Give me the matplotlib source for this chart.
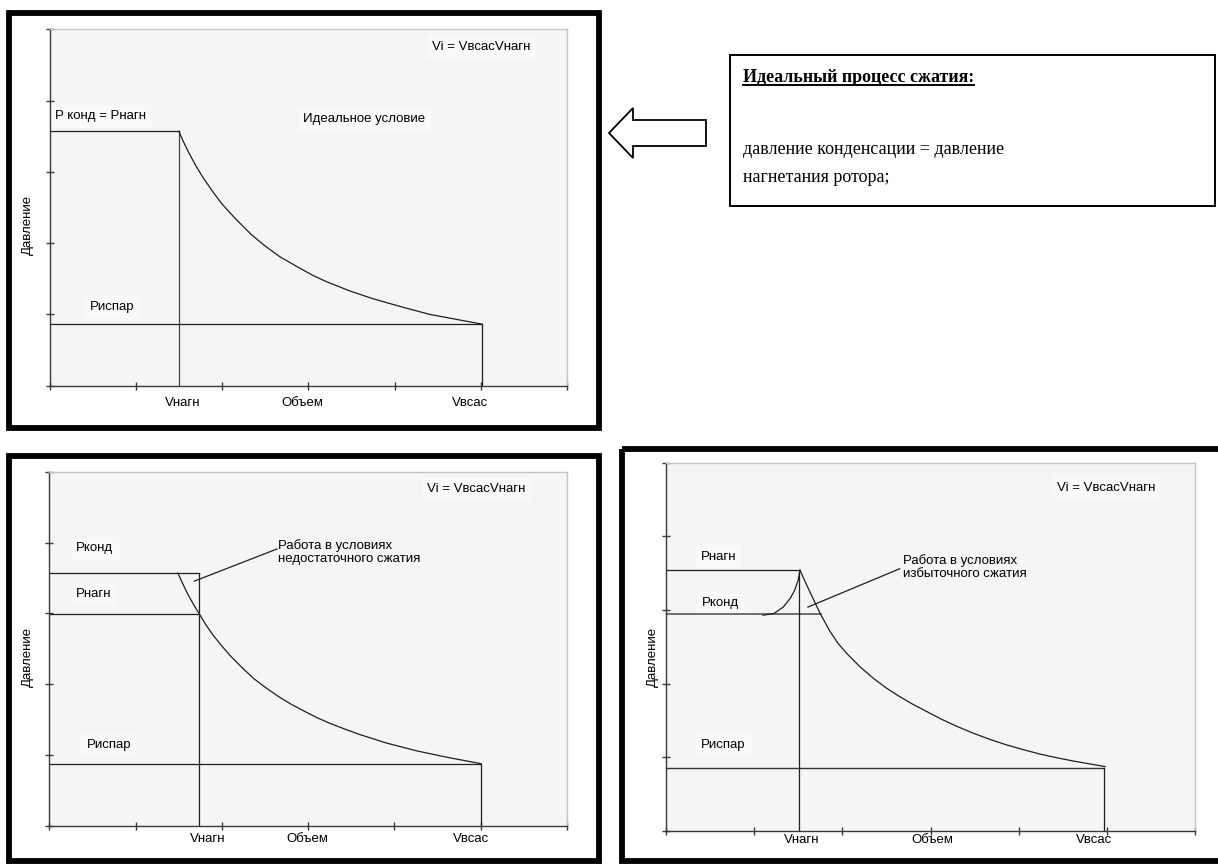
#!/usr/bin/env python3
# -*- coding: utf-8 -*-

# Import packages
import matplotlib
matplotlib.use("Agg")
import matplotlib.pyplot as plt
from matplotlib.patches import Rectangle, Polygon
from matplotlib.lines import Line2D
from matplotlib.transforms import Affine2D

# DATA (volume / pressure in axis units)
# Panel 1 - ideal compression
ideal_v_disch = 1.50
ideal_v_suct = 5.01
ideal_p_disch = 3.57
ideal_p_evap = 0.865
ideal_curve_v = [1.50, 1.55, 1.61, 1.69, 1.78, 1.90, 2.00, 2.15, 2.34, 2.50,
                 2.67, 2.87, 3.05, 3.21, 3.48, 3.75, 4.10, 4.41, 4.72, 5.01]
ideal_curve_p = [3.57, 3.43, 3.28, 3.10, 2.92, 2.71, 2.55, 2.35, 2.12, 1.96,
                 1.81, 1.67, 1.55, 1.46, 1.33, 1.22, 1.10, 1.00, 0.93, 0.865]

# Panel 2 - under-compression
under_v_disch = 1.74
under_v_suct = 5.00
under_p_cond = 3.57
under_p_disch = 2.99
under_p_evap = 0.88
under_curve_v = [1.49, 1.55, 1.61, 1.67, 1.74, 1.82, 1.90, 2.00, 2.10, 2.23,
                 2.37, 2.50, 2.64, 2.80, 2.94, 3.10, 3.25, 3.42, 3.60, 3.91,
                 4.26, 4.61, 5.00]
under_curve_p = [3.57, 3.41, 3.26, 3.13, 2.99, 2.83, 2.69, 2.54, 2.40, 2.24,
                 2.08, 1.96, 1.84, 1.72, 1.63, 1.53, 1.45, 1.37, 1.29, 1.17,
                 1.06, 0.97, 0.88]

# Panel 3 - over-compression
over_v_disch = 1.51
over_v_suct = 4.97
over_p_disch = 3.54
over_p_cond = 2.94
over_p_cond_end = 1.76
over_p_evap = 0.85
over_curve_v = [1.52, 1.58, 1.65, 1.75, 1.86, 1.95, 2.05, 2.20, 2.35, 2.50,
                2.65, 2.80, 2.96, 3.12, 3.30, 3.48, 3.67, 3.86, 4.05, 4.24,
                4.43, 4.62, 4.81, 4.98]
over_curve_p = [3.54, 3.38, 3.20, 2.95, 2.71, 2.55, 2.41, 2.23, 2.075, 1.94,
                1.825, 1.72, 1.62, 1.52, 1.42, 1.33, 1.245, 1.17, 1.105, 1.045,
                0.995, 0.95, 0.91, 0.875]
over_arc_v = [1.10, 1.22, 1.33, 1.41, 1.46, 1.50, 1.52]
over_arc_p = [2.93, 2.95, 3.04, 3.16, 3.27, 3.41, 3.54]

x_ticks = [0, 1, 2, 3, 4, 5, 6]
y_ticks = [0, 1, 2, 3, 4, 5]

W, H = 1218, 864
SANS = ["Liberation Sans", "DejaVu Sans"]
SERIF = ["Liberation Serif", "DejaVu Serif"]
LINE = "#1e1e1e"
LBL = 9.5


# FUNCTIONS
def px_axes(fig, x0, y0, x1, y1):
    """Add axes given its pixel box (y from the top)."""
    return fig.add_axes([x0 / W, 1 - y1 / H, (x1 - x0) / W, (y1 - y0) / H])


def style_axes(ax):
    ax.set_xlim(x_ticks[0], x_ticks[-1])
    ax.set_ylim(y_ticks[0], y_ticks[-1])
    ax.set_facecolor("#f5f5f5")
    ax.set_xticks(x_ticks)
    ax.set_yticks(y_ticks)
    ax.set_xticklabels([])
    ax.set_yticklabels([])
    ax.tick_params(direction="inout", length=6, width=1, color="#3a3a3a")
    for side in ("left", "bottom"):
        ax.spines[side].set_color("#3a3a3a")
        ax.spines[side].set_linewidth(1.0)
    for side in ("top", "right"):
        ax.spines[side].set_color("#c4c4c4")
        ax.spines[side].set_linewidth(1.0)


def label(ax, x, y, s):
    ax.text(x, y, s, ha="left", va="center", fontsize=LBL, family=SANS,
            zorder=1, bbox=dict(facecolor="#f9f9f9", edgecolor="none", pad=4))


def x_labels(ax, v_disch, v_mid, v_suct, offset):
    for xv, s in ((v_disch, "Vнагн"), (v_mid, "Объем"), (v_suct, "Vвсас")):
        ax.annotate(s, xy=(xv, 0), xycoords="data", xytext=(0, -offset),
                    textcoords="offset points", ha="center", va="center",
                    fontsize=LBL, family=SANS, annotation_clip=False)


def y_label(ax, fx, fy):
    ax.text(fx, fy, "Давление", transform=ax.transAxes, rotation=90,
            ha="center", va="center", fontsize=LBL, family=SANS)


fig = plt.figure(figsize=(W / 100, H / 100), dpi=100)
fig.patch.set_facecolor("white")
pix = Affine2D().scale(1 / W, -1 / H).translate(0, 1) + fig.transFigure

# Frames round the three panels
for x0, y0, x1, y1 in ((8.5, 12.5, 599, 428), (8.5, 455.5, 599, 860.5),
                       (622, 449, 1224, 860.5)):
    fig.add_artist(Rectangle((x0, y0), x1 - x0, y1 - y0, transform=pix,
                             fill=False, edgecolor="black", linewidth=4.2))

# Panel 1
ax1 = px_axes(fig, 49.5, 29.3, 567, 385.7)
style_axes(ax1)
ax1.plot([0, ideal_v_disch], [ideal_p_disch, ideal_p_disch], color=LINE, lw=0.9)
ax1.plot([ideal_v_disch, ideal_v_disch], [0, ideal_p_disch], color="#444", lw=0.9)
ax1.plot(ideal_curve_v, ideal_curve_p, color=LINE, lw=0.9)
ax1.plot([0, ideal_v_suct], [ideal_p_evap, ideal_p_evap], color=LINE, lw=0.9)
ax1.plot([ideal_v_suct, ideal_v_suct], [0, ideal_p_evap], color=LINE, lw=0.9)
label(ax1, 4.44, 4.75, "Vi = VвсасVнагн")
label(ax1, 0.06, 3.78, "P конд = Рнагн")
label(ax1, 2.94, 3.74, "Идеальное условие")
label(ax1, 0.47, 1.10, "Риспар")
x_labels(ax1, 1.54, 2.93, 4.88, 12.2)
y_label(ax1, -0.0415, 0.451)

# Panel 2
ax2 = px_axes(fig, 49.3, 471.7, 567, 826)
style_axes(ax2)
ax2.plot([0, under_v_disch], [under_p_cond, under_p_cond], color=LINE, lw=0.9)
ax2.plot([0, under_v_disch], [under_p_disch, under_p_disch], color=LINE, lw=0.9)
ax2.plot([under_v_disch, under_v_disch], [0, under_p_cond], color=LINE, lw=0.9)
ax2.plot(under_curve_v, under_curve_p, color=LINE, lw=0.9)
ax2.plot([0, under_v_suct], [under_p_evap, under_p_evap], color=LINE, lw=0.9)
ax2.plot([under_v_suct, under_v_suct], [0, under_p_evap], color=LINE, lw=0.9)
ax2.plot([1.68, 2.64], [3.455, 3.91], color=LINE, lw=0.9)
ax2.text(2.65, 3.87, "Работа в условиях\nнедостаточного сжатия", ha="left",
         va="center", fontsize=LBL, family=SANS, linespacing=1.1)
label(ax2, 4.38, 4.76, "Vi = VвсасVнагн")
label(ax2, 0.31, 3.92, "Рконд")
label(ax2, 0.31, 3.27, "Рнагн")
label(ax2, 0.43, 1.14, "Риспар")
x_labels(ax2, 1.84, 2.99, 4.89, 9.4)
y_label(ax2, -0.041, 0.477)

# Panel 3
ax3 = px_axes(fig, 666, 462.7, 1195, 831)
style_axes(ax3)
ax3.plot([0, over_v_disch], [over_p_disch, over_p_disch], color=LINE, lw=0.9)
ax3.plot([0, over_p_cond_end], [over_p_cond, over_p_cond], color="#4a4a4a", lw=1.1)
ax3.plot([over_v_disch, over_v_disch], [0, over_p_disch], color=LINE, lw=0.9)
ax3.plot(over_arc_v, over_arc_p, color=LINE, lw=0.9)
ax3.plot(over_curve_v, over_curve_p, color=LINE, lw=0.9)
ax3.plot([0, over_v_suct], [over_p_evap, over_p_evap], color="#333", lw=1.0)
ax3.plot([over_v_suct, over_v_suct], [0, over_p_evap], color=LINE, lw=0.9)
ax3.plot([1.61, 2.65], [3.04, 3.56], color=LINE, lw=0.9)
ax3.text(2.69, 3.58, "Работа в условиях\nизбыточного сжатия", ha="left",
         va="center", fontsize=LBL, family=SANS, linespacing=1.1)
label(ax3, 4.44, 4.66, "Vi = VвсасVнагн")
label(ax3, 0.40, 3.72, "Рнагн")
label(ax3, 0.41, 3.09, "Рконд")
label(ax3, 0.40, 1.17, "Риспар")
x_labels(ax3, 1.54, 3.02, 4.85, 6.5)
y_label(ax3, -0.0253, 0.473)

# Hollow arrow pointing at panel 1
arrow_pts = [(609, 133), (633, 108), (633, 120), (706, 120), (706, 146),
             (633, 146), (633, 158)]
fig.add_artist(Polygon(arrow_pts, closed=True, transform=pix,
                       facecolor="white", edgecolor="black", linewidth=1.3))

# Text box
fig.add_artist(Rectangle((730, 55), 485, 151, transform=pix, fill=False,
                         edgecolor="black", linewidth=1.4))
heading = fig.text(743 / W, 1 - 78 / H, "Идеальный процесс сжатия:",
                   ha="left", va="center", fontsize=13, fontweight="bold",
                   family=SERIF)
fig.text(743 / W, 1 - 149 / H, "давление конденсации = давление",
         ha="left", va="center", fontsize=13, family=SERIF)
fig.text(743 / W, 1 - 178 / H, "нагнетания ротора;",
         ha="left", va="center", fontsize=13, family=SERIF)

# underline the heading
fig.canvas.draw()
bb = heading.get_window_extent(fig.canvas.get_renderer())
inv = fig.transFigure.inverted()
(ux0, uy), (ux1, _) = inv.transform([(bb.x0, bb.y0 + 1.5), (bb.x1, bb.y0 + 1.5)])
fig.add_artist(Line2D([ux0, ux1], [uy, uy], transform=fig.transFigure,
                      color="black", linewidth=1.4))

try:
    fig.savefig("out.png", dpi=100)
except OSError:
    print("! OSERROR: out.png couldn't be saved !")
finally:
    plt.close(fig)
